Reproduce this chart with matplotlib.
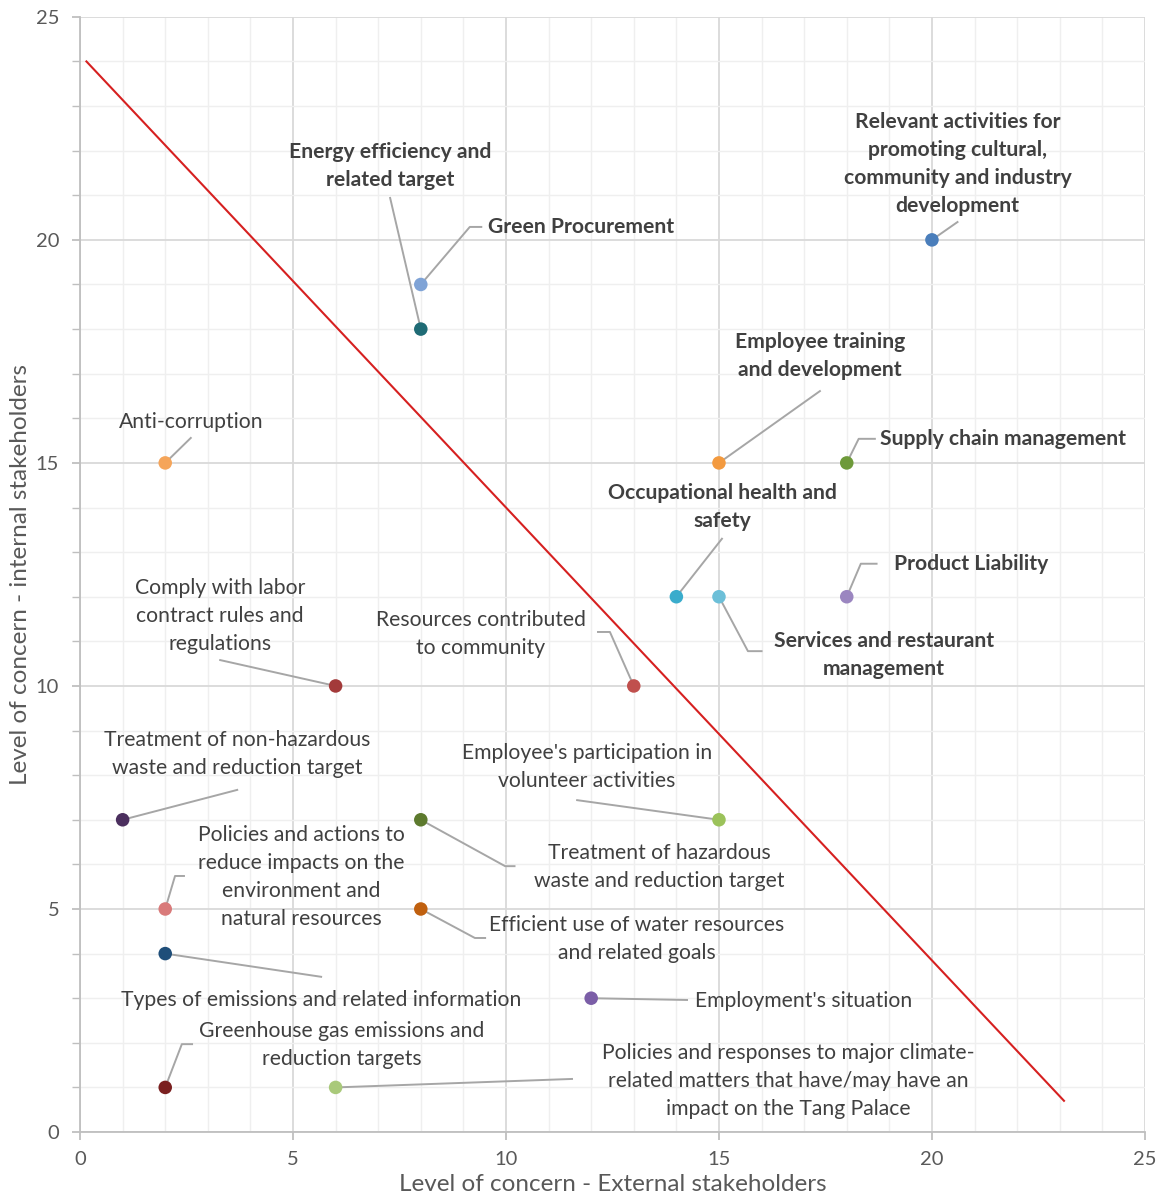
import matplotlib
matplotlib.use("Agg")
import matplotlib.pyplot as plt
from matplotlib.ticker import MultipleLocator

plt.rcParams["font.family"] = ["Lato", "DejaVu Sans"]

# Materiality topics: (external concern, internal concern)
topics = [
    "Relevant activities for\npromoting cultural,\ncommunity and industry\ndevelopment",
    "Green Procurement",
    "Energy efficiency and\nrelated target",
    "Employee training\nand development",
    "Supply chain management",
    "Anti-corruption",
    "Occupational health and\nsafety",
    "Services and restaurant\nmanagement",
    "Product Liability",
    "Comply with labor\ncontract rules and\nregulations",
    "Resources contributed\nto community",
    "Treatment of non-hazardous\nwaste and reduction target",
    "Employee's participation in\nvolunteer activities",
    "Treatment of hazardous\nwaste and reduction target",
    "Policies and actions to\nreduce impacts on the\nenvironment and\nnatural resources",
    "Efficient use of water resources\nand related goals",
    "Types of emissions and related information",
    "Employment's situation",
    "Greenhouse gas emissions and\nreduction targets",
    "Policies and responses to major climate-\nrelated matters that have/may have an\nimpact on the Tang Palace",
]
external = [20, 8, 8, 15, 18, 2, 14, 15, 18, 6, 13, 1, 15, 8, 2, 8, 2, 12, 2, 6]
internal = [20, 19, 18, 15, 15, 15, 12, 12, 12, 10, 10, 7, 7, 7, 5, 5, 4, 3, 1, 1]
bold = [True, True, True, True, True, False, True, True, True, False,
        False, False, False, False, False, False, False, False, False, False]
colors = ["#4a7ebb", "#7fa3d6", "#1f6b75", "#f39a3f", "#6e9a3a", "#f5a55a",
          "#3aaccc", "#6cbfd8", "#9b86c0", "#a33a3a", "#c0504d", "#4b2f5e",
          "#9bc25a", "#5d7a2e", "#d97a7a", "#c0600f", "#1f4e79", "#7b5ea7",
          "#7a2020", "#a9c97a"]

# Priority threshold line
threshold_x = [0.15, 23.1]
threshold_y = [24.0, 0.7]

# Label placement: (text x, text y, alignment, leader path after the point)
layout = [
    (20.6, 21.7, "center", [(20.6, 20.4)]),
    (9.58, 20.29, "left", [(9.15, 20.29), (9.42, 20.29)]),
    (7.28, 21.66, "center", [(7.28, 20.94)]),
    (17.37, 17.4, "center", [(17.37, 16.61)]),
    (18.78, 15.54, "left", [(18.28, 15.54), (18.66, 15.54)]),
    (2.6, 15.92, "center", [(2.6, 15.56)]),
    (15.07, 14.01, "center", [(15.07, 13.3)]),
    (18.87, 10.7, "center", [(15.68, 10.78), (16.0, 10.78)]),
    (19.1, 12.74, "left", [(18.33, 12.74), (18.7, 12.74)]),
    (3.29, 11.57, "center", [(3.29, 10.58)]),
    (9.41, 11.17, "center", [(12.44, 11.21), (12.16, 11.21)]),
    (3.69, 8.48, "center", [(3.69, 7.67)]),
    (11.9, 8.18, "center", [(11.67, 7.44)]),
    (13.6, 5.94, "center", [(9.98, 5.96), (10.2, 5.96)]),
    (5.19, 5.72, "center", [(2.23, 5.74), (2.44, 5.74)]),
    (13.07, 4.33, "center", [(9.27, 4.35), (9.51, 4.35)]),
    (5.66, 2.96, "center", [(5.66, 3.48)]),
    (14.44, 2.94, "left", [(14.25, 2.96)]),
    (6.15, 1.95, "center", [(2.39, 1.97), (2.63, 1.97)]),
    (16.62, 1.14, "center", [(11.55, 1.19)]),
]

fig = plt.figure(figsize=(11.6, 11.94), dpi=100)
ax = fig.add_axes([0.069, 0.0519, 0.918, 0.934])

ax.set_xlim(0, 25)
ax.set_ylim(0, 25)
ax.xaxis.set_major_locator(MultipleLocator(5))
ax.yaxis.set_major_locator(MultipleLocator(5))
ax.xaxis.set_minor_locator(MultipleLocator(1))
ax.yaxis.set_minor_locator(MultipleLocator(1))
ax.grid(which="major", color="#d9d9d9", linewidth=1.3, zorder=0)
ax.grid(which="minor", color="#efefef", linewidth=1.0, zorder=0)
ax.set_axisbelow(True)

for side in ("top", "right"):
    ax.spines[side].set_visible(False)
for side in ("left", "bottom"):
    ax.spines[side].set_color("#bfbfbf")
    ax.spines[side].set_linewidth(1.3)

ax.tick_params(axis="both", which="major", colors="#bfbfbf", labelcolor="#595959",
               labelsize=14.5, length=6, width=1.3)
ax.tick_params(axis="x", which="major", pad=8)
ax.tick_params(axis="y", which="major", pad=9)
ax.tick_params(axis="y", which="minor", colors="#bfbfbf", length=6, width=1.0)
ax.tick_params(axis="x", which="minor", length=0)

ax.set_xlabel("Level of concern - External stakeholders", fontsize=17.5,
              color="#595959", labelpad=4)
ax.set_ylabel("Level of concern - internal stakeholders", fontsize=17.5,
              color="#595959")
ax.yaxis.set_label_coords(-0.046, 0.5)

ax.plot(threshold_x, threshold_y, color="#d62020", linewidth=1.5, zorder=2)

for i, name in enumerate(topics):
    tx, ty, ha, path = layout[i]
    px = [external[i]] + [p[0] for p in path]
    py = [internal[i]] + [p[1] for p in path]
    ax.plot(px, py, color="#a6a6a6", linewidth=1.4, zorder=3)
    ax.text(tx, ty, name, ha=ha, va="center", multialignment="center",
            fontsize=15.2, fontweight="bold" if bold[i] else "normal",
            color="#404040", linespacing=1.5, zorder=5)

ax.scatter(external, internal, s=95, c=colors, edgecolors="none", zorder=4)

fig.savefig("out.png", dpi=100)
